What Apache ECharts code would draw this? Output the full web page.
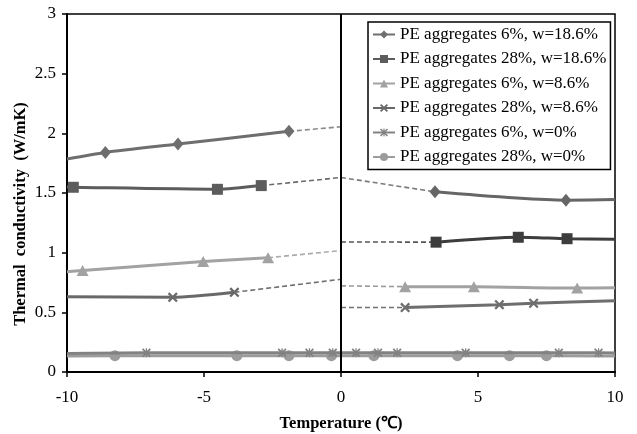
<!DOCTYPE html>
<html>
<head>
<meta charset="utf-8">
<script src="https://cdn.jsdelivr.net/npm/echarts@6/dist/echarts.min.js"></script>
<style>
html,body{margin:0;padding:0;background:#fff;}
#chart{width:637px;height:434px;}
</style>
</head>
<body>
<div id="chart"></div>
<script>
// ---------- data ----------
const seriesNames = [
  'PE aggregates 6%, w=18.6%',
  'PE aggregates 28%, w=18.6%',
  'PE aggregates 6%, w=8.6%',
  'PE aggregates 28%, w=8.6%',
  'PE aggregates 6%, w=0%',
  'PE aggregates 28%, w=0%'
];
const xTicks = [-10, -5, 0, 5, 10];
const yTicks = [0, 0.5, 1, 1.5, 2, 2.5, 3];

// measured points; Ends = trend line values at T=-10 and T=10; Zero = extrapolated values at T=0 (from left, from right)
const s1LeftX = [-8.6, -5.95, -1.9];
const s1LeftY = [1.84, 1.91, 2.017];
const s1RightX = [3.43, 8.21];
const s1RightY = [1.51, 1.44];
const s1Ends = [1.785, 1.445];
const s1Zero = [2.055, 1.63];

const s2LeftX = [-9.77, -4.51, -2.91];
const s2LeftY = [1.548, 1.531, 1.562];
const s2RightX = [3.47, 6.47, 8.25];
const s2RightY = [1.088, 1.129, 1.117];
const s2Ends = [1.55, 1.112];
const s2Zero = [1.63, 1.09];

const s3LeftX = [-9.43, -5.03, -2.66];
const s3LeftY = [0.85, 0.925, 0.958];
const s3RightX = [2.34, 4.85, 8.62];
const s3RightY = [0.715, 0.715, 0.703];
const s3Ends = [0.841, 0.706];
const s3Zero = [1.017, 0.722];

const s4LeftX = [-6.14, -3.89];
const s4LeftY = [0.626, 0.668];
const s4RightX = [2.34, 5.78, 7.03];
const s4RightY = [0.54, 0.564, 0.576];
const s4Ends = [0.631, 0.598];
const s4Zero = [0.777, 0.54];

const s5X = [-7.1, -2.15, -1.15, -0.3, 0.55, 1.35, 2.05, 4.55, 7.95, 9.4];
const s5Y = [0.162, 0.162, 0.162, 0.162, 0.162, 0.162, 0.162, 0.162, 0.162, 0.162];
const s5Ends = [0.155, 0.16];

const s6X = [-8.25, -3.8, -1.9, -0.35, 1.2, 4.25, 6.15, 7.5];
const s6Y = [0.137, 0.137, 0.137, 0.137, 0.137, 0.137, 0.137, 0.137];
const s6Ends = [0.135, 0.135];

// ---------- build ----------
const FONT = "'Times New Roman','Liberation Serif',serif";
const X_PATH = 'path://M0,1.6 L1.6,0 L10,8.4 L8.4,10 Z M8.4,0 L10,1.6 L1.6,10 L0,8.4 Z';
const STAR_PATH = 'path://M0,1.4 L1.4,0 L10,8.6 L8.6,10 Z M8.6,0 L10,1.4 L1.4,10 L0,8.6 Z M4.3,0 L5.7,0 L5.7,10 L4.3,10 Z';

function pts(xs, ys){ return xs.map((x,i)=>[x, ys[i]]); }
function endPt(x, y){ return {value:[x, y], symbol:'none'}; }

function solid(name, color, data, symbol, size, z){
  return {
    name, type:'line', data, symbol, symbolSize:size, showSymbol:true,
    smooth:0.25, z: z||3,
    lineStyle:{color, width:3},
    itemStyle:{color, borderWidth:0},
    emphasis:{disabled:true}, animation:false
  };
}
function dashed(color, data){
  return {
    type:'line', data, symbol:'none', z:2,
    lineStyle:{color, width:1.6, type:[5,3]},
    emphasis:{disabled:true}, animation:false, silent:true
  };
}
function last(a){ return a[a.length-1]; }

const series = [];
// series 1
series.push(solid(seriesNames[0], '#6e6e6e',
  [endPt(xTicks[0], s1Ends[0]), ...pts(s1LeftX, s1LeftY)], 'diamond', [11,13]));
series.push(solid(seriesNames[0], '#666666',
  [...pts(s1RightX, s1RightY), endPt(last(xTicks), s1Ends[1])], 'diamond', [11,13]));
series.push(dashed('#8a8a8a', [[last(s1LeftX), last(s1LeftY)], [0, s1Zero[0]]]));
series.push(dashed('#7a7a7a', [[0, s1Zero[1]], [s1RightX[0], s1RightY[0]]]));
// series 2
series.push(solid(seriesNames[1], '#5c5c5c',
  [endPt(xTicks[0], s2Ends[0]), ...pts(s2LeftX, s2LeftY)], 'rect', 11));
series.push(solid(seriesNames[1], '#3d3d3d',
  [...pts(s2RightX, s2RightY), endPt(last(xTicks), s2Ends[1])], 'rect', 11));
series.push(dashed('#6a6a6a', [[last(s2LeftX), last(s2LeftY)], [0, s2Zero[0]]]));
series.push(dashed('#555555', [[0, s2Zero[1]], [s2RightX[0], s2RightY[0]]]));
// series 3
series.push(solid(seriesNames[2], '#a2a2a2',
  [endPt(xTicks[0], s3Ends[0]), ...pts(s3LeftX, s3LeftY)], 'triangle', [12,11]));
series.push(solid(seriesNames[2], '#a2a2a2',
  [...pts(s3RightX, s3RightY), endPt(last(xTicks), s3Ends[1])], 'triangle', [12,11]));
series.push(dashed('#ababab', [[last(s3LeftX), last(s3LeftY)], [0, s3Zero[0]]]));
series.push(dashed('#9a9a9a', [[0, s3Zero[1]], [s3RightX[0], s3RightY[0]]]));
// series 4
series.push(solid(seriesNames[3], '#696969',
  [endPt(xTicks[0], s4Ends[0]), ...pts(s4LeftX, s4LeftY)], X_PATH, 10));
series.push(solid(seriesNames[3], '#6e6e6e',
  [...pts(s4RightX, s4RightY), endPt(last(xTicks), s4Ends[1])], X_PATH, 10));
series.push(dashed('#707070', [[last(s4LeftX), last(s4LeftY)], [0, s4Zero[0]]]));
series.push(dashed('#707070', [[0, s4Zero[1]], [s4RightX[0], s4RightY[0]]]));
// series 5
const s5 = solid(seriesNames[4], '#828282',
  [endPt(xTicks[0], s5Ends[0]), ...pts(s5X, s5Y), endPt(last(xTicks), s5Ends[1])], STAR_PATH, 9, 4);
s5.smooth = false;
series.push(s5);
// series 6
const s6 = solid(seriesNames[5], '#9c9c9c',
  [endPt(xTicks[0], s6Ends[0]), ...pts(s6X, s6Y), endPt(last(xTicks), s6Ends[1])], 'circle', 11, 3);
s6.smooth = false;
series.push(s6);

// vertical line at T = 0
series.push({
  type:'line', data:[], silent:true, z:5,
  markLine:{silent:true, symbol:'none', label:{show:false},
    lineStyle:{color:'#000', width:2, type:'solid'}, emphasis:{disabled:true},
    data:[{xAxis:xTicks[2]}], animation:false}
});

const chart = echarts.init(document.getElementById('chart'), null, {renderer:'canvas'});
chart.setOption({
  animation:false,
  backgroundColor:'#fff',
  grid:{left:67, right:22, top:14, bottom:62, show:true, borderColor:'#000', borderWidth:1.5, backgroundColor:'transparent'},
  xAxis:{
    type:'value', min:xTicks[0], max:last(xTicks), interval:5,
    axisLine:{show:true, onZero:false, lineStyle:{color:'#000', width:2}},
    axisTick:{show:true, inside:false, length:5, lineStyle:{color:'#000', width:1.5}},
    axisLabel:{color:'#000', fontFamily:FONT, fontSize:17, margin:17},
    splitLine:{show:false}
  },
  yAxis:{
    type:'value', min:yTicks[0], max:last(yTicks), interval:0.5,
    axisLine:{show:true, onZero:false, lineStyle:{color:'#000', width:2}},
    axisTick:{show:true, inside:false, length:5, lineStyle:{color:'#000', width:1.5}},
    axisLabel:{color:'#000', fontFamily:FONT, fontSize:17, margin:11},
    splitLine:{show:false}
  },
  legend:{
    data:seriesNames, orient:'vertical', left:368, top:22,
    backgroundColor:'#fff', borderColor:'#000', borderWidth:1.5,
    padding:[4,4,4,4], itemGap:7.5, itemWidth:22, itemHeight:10,
    textStyle:{color:'#000', fontFamily:FONT, fontSize:17},
    selectedMode:false
  },
  graphic:[
    {type:'text', x:21, y:214, rotation:Math.PI/2, z:10,
      style:{text:'Thermal  conductivity  (W/mK)', fill:'#000', font:'bold 16.5px ' + FONT, textAlign:'center', textVerticalAlign:'middle'}},
    {type:'text', x:341, y:424, z:10,
      style:{text:'Temperature (℃)', fill:'#000', font:'bold 16.5px ' + FONT, textAlign:'center', textVerticalAlign:'middle'}}
  ],
  series
});
</script>
</body>
</html>
